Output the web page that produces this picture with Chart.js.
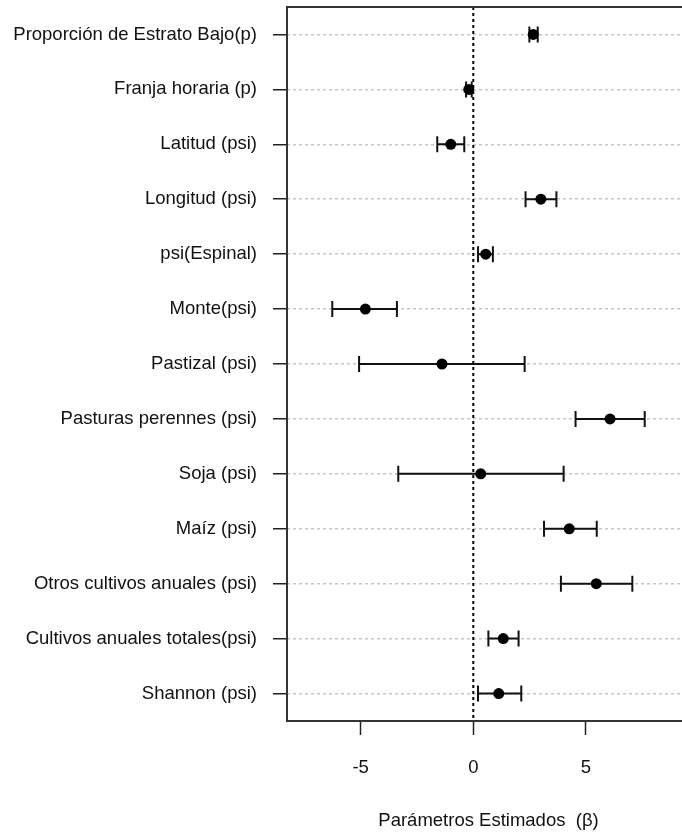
<!DOCTYPE html>
<html>
<head>
<meta charset="utf-8">
<script src="https://cdn.jsdelivr.net/npm/chart.js@4/dist/chart.umd.min.js"></script>
<style>
  html, body { margin: 0; padding: 0; background: #ffffff; overflow: hidden; }
  #wrap { width: 700px; height: 837px; }
</style>
</head>
<body>
<div id="wrap"><canvas id="forest" width="700" height="837"></canvas></div>
<script>
// Covariables del modelo (de arriba hacia abajo)
const categories = [
  'Proporción de Estrato Bajo(p)',
  'Franja horaria (p)',
  'Latitud (psi)',
  'Longitud (psi)',
  'psi(Espinal)',
  'Monte(psi)',
  'Pastizal (psi)',
  'Pasturas perennes (psi)',
  'Soja (psi)',
  'Maíz (psi)',
  'Otros cultivos anuales (psi)',
  'Cultivos anuales totales(psi)',
  'Shannon (psi)'
];

// Parámetros estimados (beta) y límites del intervalo
const estimates = [2.66, -0.20, -1.00, 3.00, 0.55, -4.79, -1.39, 6.07, 0.33, 4.26, 5.46, 1.33, 1.13];
const lowerCI   = [2.49, -0.32, -1.60, 2.32, 0.21, -6.26, -5.07, 4.54, -3.33, 3.14, 3.89, 0.67, 0.21];
const upperCI   = [2.86, -0.07, -0.40, 3.69, 0.87, -3.39, 2.28, 7.61, 4.01, 5.48, 7.06, 2.01, 2.13];

// Marcas del eje x
const xTickValues = [-5, 0, 5];

const FONT = { family: "'Liberation Sans', Arial, 'DejaVu Sans', sans-serif", size: 18.5 };
const TEXT = '#111111';

const points = estimates.map((v, i) => ({ x: v, y: i + 1 }));

// Línea vertical en cero, barras de error y marco del gráfico
const forestPlugin = {
  id: 'forestPlugin',
  beforeDatasetsDraw(chart) {
    const { ctx, chartArea, scales } = chart;
    const xs = scales.x, ys = scales.y;
    ctx.save();
    // referencia en beta = 0
    const x0 = xs.getPixelForValue(0);
    ctx.strokeStyle = '#000000';
    ctx.lineWidth = 2;
    ctx.setLineDash([3, 3]);
    ctx.beginPath();
    ctx.moveTo(x0, chartArea.top);
    ctx.lineTo(x0, chartArea.bottom);
    ctx.stroke();
    ctx.setLineDash([]);
    // intervalos
    ctx.lineWidth = 2;
    ctx.strokeStyle = '#111111';
    const cap = 8;
    for (let i = 0; i < estimates.length; i++) {
      const y = ys.getPixelForValue(i + 1);
      const xl = xs.getPixelForValue(lowerCI[i]);
      const xu = xs.getPixelForValue(upperCI[i]);
      ctx.beginPath();
      ctx.moveTo(xl, y); ctx.lineTo(xu, y);
      ctx.moveTo(xl, y - cap); ctx.lineTo(xl, y + cap);
      ctx.moveTo(xu, y - cap); ctx.lineTo(xu, y + cap);
      ctx.stroke();
    }
    ctx.restore();
  },
  afterDraw(chart) {
    const { ctx, chartArea } = chart;
    ctx.save();
    ctx.strokeStyle = '#333333';
    ctx.lineWidth = 2;
    ctx.strokeRect(chartArea.left, chartArea.top, chartArea.right - chartArea.left, chartArea.bottom - chartArea.top);
    ctx.restore();
  }
};

new Chart(document.getElementById('forest'), {
  type: 'scatter',
  data: {
    datasets: [{
      data: points,
      backgroundColor: '#000000',
      borderColor: '#000000',
      pointRadius: 5.5,
      pointHoverRadius: 5.5,
      borderWidth: 0
    }]
  },
  options: {
    responsive: false,
    animation: false,
    events: [],
    layout: { padding: { top: 7, right: 10, left: 0, bottom: 0 } },
    plugins: { legend: { display: false }, tooltip: { enabled: false } },
    scales: {
      x: {
        type: 'linear',
        min: -8.27,
        max: 9.62,
        afterBuildTicks(scale) { scale.ticks = xTickValues.map(v => ({ value: v })); },
        afterFit(scale) { scale.height = 116; scale.paddingLeft = 0; scale.paddingRight = 0; },
        border: { display: false },
        grid: {
          drawOnChartArea: false,
          drawTicks: true,
          tickLength: 14,
          tickColor: '#222222',
          tickWidth: 1.5
        },
        ticks: { color: TEXT, font: FONT, padding: 22, maxRotation: 0 },
        title: {
          display: true,
          text: 'Parámetros Estimados  (β)',
          color: TEXT,
          font: FONT,
          padding: { top: 0, bottom: 5 }
        }
      },
      y: {
        type: 'linear',
        reverse: true,
        min: 0.5,
        max: 13.5,
        afterBuildTicks(scale) { scale.ticks = categories.map((c, i) => ({ value: i + 1 })); },
        afterFit(scale) { scale.width = 287; scale.paddingTop = 0; scale.paddingBottom = 0; },
        border: { display: false, dash: [3, 3] },
        grid: {
          color: '#c4c4c4',
          lineWidth: 1.5,
          drawTicks: true,
          tickLength: 14,
          tickColor: '#222222',
          tickWidth: 1.5,
          tickBorderDash: []
        },
        ticks: {
          color: TEXT,
          font: FONT,
          padding: 16,
          autoSkip: false,
          callback(value) { return categories[Math.round(value) - 1]; }
        }
      }
    }
  },
  plugins: [forestPlugin]
});
</script>
</body>
</html>
